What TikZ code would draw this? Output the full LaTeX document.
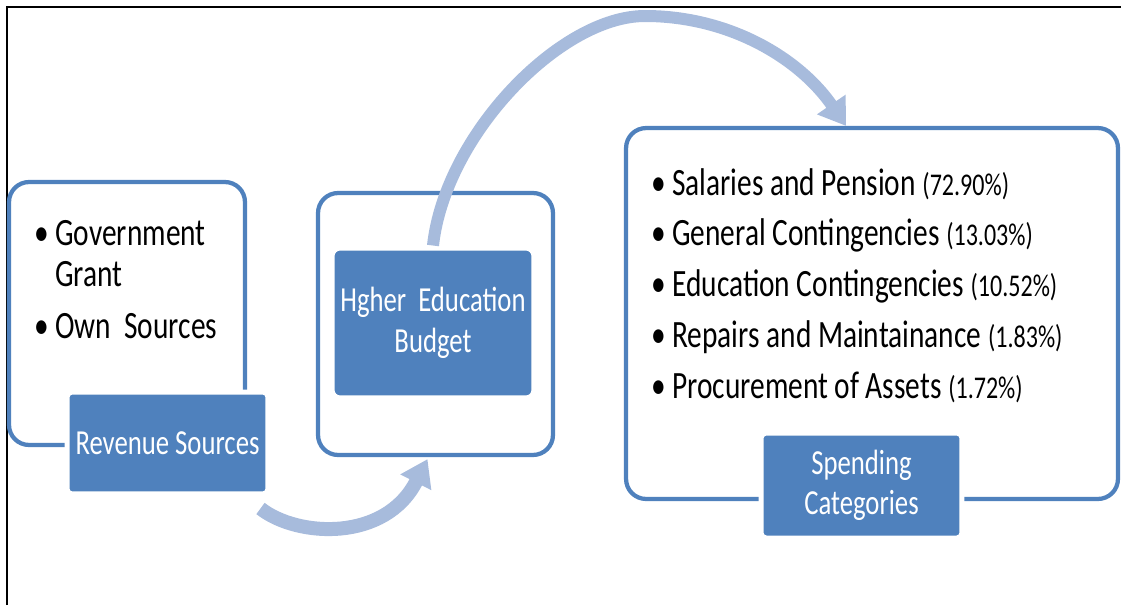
\documentclass[tikz,border=0pt]{standalone}
\usepackage{fontspec}
\setmainfont{Carlito}[FakeStretch=0.76]
\usetikzlibrary{positioning,arrows.meta,calc}
\definecolor{boxblue}{RGB}{79,129,189}
\definecolor{arcblue}{RGB}{167,187,220}
\newcommand{\itemdot}{\makebox[0.42cm][l]{\textbullet}}
\newcommand{\share}[1]{{\fontsize{18}{20}\selectfont(#1\%)}}

\begin{document}
\begin{tikzpicture}[x=0.02cm, y=-0.02cm, node distance=1.02cm, on grid,
  outer/.style={draw=boxblue, line width=0.085cm, fill=white, rounded corners=0.4cm},
  tag/.style={fill=boxblue, draw=white, line width=0.1cm, rounded corners=0.1cm,
    text=white, align=center, font=\fontsize{20}{23}\selectfont},
  item/.style={anchor=base west, inner sep=0pt, font=\fontsize{22}{26}\selectfont},
  flow/.style={draw=arcblue, line width=0.28cm, -{Triangle[width=0.66cm,length=0.52cm]}}]
\useasboundingbox (0,0) rectangle (1121,605);
\draw [line width=0.05cm] (7,605) -- (7,7) -- (1121,7);

% boxes
\node (srcbox) [outer, minimum width=4.72cm, minimum height=5.26cm] at (127,313.5) {};
\node (budbox) [outer, minimum width=4.7cm, minimum height=5.24cm] at (435.5,324) {};
\node (spendbox) [outer, minimum width=9.84cm, minimum height=7.42cm] at (872,313.5) {};

% left list
\node (g1) [item] at (34,245) {\itemdot Government};
\node (g2) [item, below=0.84cm of g1.base west, anchor=base west] {\makebox[0.42cm]{}Grant};
\node (g3) [item, below=1.04cm of g2.base west, anchor=base west] {\itemdot Own~~Sources};

% right list
\node (s1) [item] at (651,195) {\itemdot Salaries and Pension \share{72.90}};
\node (s2) [item, below=of s1.base west, anchor=base west] {\itemdot General Contingencies \share{13.03}};
\node (s3) [item, below=of s2.base west, anchor=base west] {\itemdot Education Contingencies \share{10.52}};
\node (s4) [item, below=of s3.base west, anchor=base west] {\itemdot Repairs and Maintainance \share{1.83}};
\node (s5) [item, below=of s4.base west, anchor=base west] {\itemdot Procurement of Assets \share{1.72}};

% labels
\node (rev) [tag, minimum width=4.02cm, minimum height=2.04cm] at (167.5,443) {Revenue Sources};
\node (budget) [tag, minimum width=4.04cm, minimum height=3cm, rounded corners=0.16cm] at (433,323) {Hgher~~Education\\Budget};
\node (spend) [tag, minimum width=4.02cm, minimum height=2.1cm] at (861.5,485.5) {Spending\\Categories};

% arcs
\coordinate (apex) at (645,16);
\draw [flow] ($(rev.south east)+(-10,12)$) .. controls +(37,29) and +(-42,83) .. ($(budbox.south)+(-8,2)$);
\draw [flow, line width=0.24cm] (budget.north) .. controls +(12,-110) and +(-85,0) .. (apex)
  .. controls +(85,0) and +(-46,-67) .. ($(spendbox.north)+(-26,0)$);
\end{tikzpicture}
\end{document}
